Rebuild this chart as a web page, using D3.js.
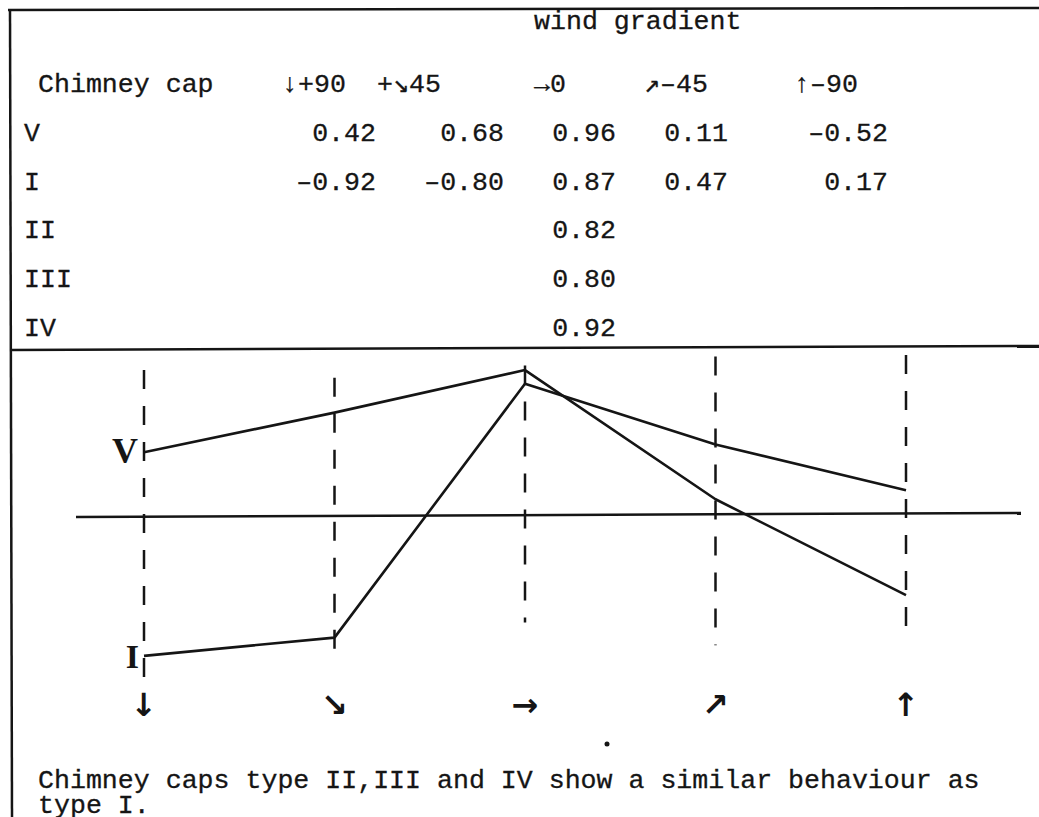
<!DOCTYPE html>
<html>
<head>
<meta charset="utf-8">
<script src="https://cdn.jsdelivr.net/npm/d3@7"></script>
<style>
  body { margin: 0; background: #fff; }
  svg { display: block; }
  .typed { font-family: "Liberation Mono", "Courier New", monospace; font-size: 26.6px; fill: #151515; stroke: #151515; stroke-width: 0.3px; }
</style>
</head>
<body>
<svg></svg>
<script>
// wind gradient directions (degrees) and the table
var directions = ["+90", "+45", "0", "-45", "-90"];
var headerLabels = ["\u2193+90", "+\u219845", "\u21920", "\u2197\u201345", "\u2191\u201390"];
var arrowGlyphs = ["\u2193", "\u2198", "\u2192", "\u2197", "\u2191"];
var caps = ["V", "I", "II", "III", "IV"];
var capV = [0.42, 0.68, 0.96, 0.11, -0.52];
var capI = [-0.92, -0.80, 0.87, 0.47, 0.17];
var capII = [null, null, 0.82, null, null];
var capIII = [null, null, 0.80, null, null];
var capIV = [null, null, 0.92, null, null];
var rows = [capV, capI, capII, capIII, capIV];

// hand drawn guide lines, in value units
var guideTop = [0.96, 0.91, 0.99, 1.05, 1.06];
var guideBottom = [-1.08, -0.91, -0.70, -0.85, -0.75];

var width = 1039, height = 817;
var svg = d3.select("svg").attr("width", width).attr("height", height);

var ink = "#151515";

// frame
svg.append("line").attr("x1", 8).attr("y1", 10).attr("x2", width).attr("y2", 8)
  .attr("stroke", ink).attr("stroke-width", 2.5);
svg.append("line").attr("x1", 10).attr("y1", 9).attr("x2", 12).attr("y2", height)
  .attr("stroke", ink).attr("stroke-width", 2.5);
svg.append("line").attr("x1", 10).attr("y1", 350).attr("x2", width).attr("y2", 346)
  .attr("stroke", ink).attr("stroke-width", 2.5);

// ---- table ----
var rowY = d3.scalePoint().domain(["head"].concat(caps)).range([92, 336]);
var headX = d3.scaleOrdinal().domain(directions).range([282, 377, 534, 644, 794]);
var numX = d3.scaleOrdinal().domain(directions).range([376, 504, 616, 728, 888]);
var fmt = function(v) { return (v < 0 ? "\u2013" : "") + Math.abs(v).toFixed(2); };

svg.append("text").attr("class", "typed").attr("x", 534).attr("y", 29).text("wind gradient");
svg.append("text").attr("class", "typed").attr("x", 38).attr("y", rowY("head")).text("Chimney cap");

svg.selectAll(".head").data(directions).enter().append("text")
  .attr("class", "typed head")
  .attr("x", d => headX(d))
  .attr("y", rowY("head"))
  .text((d, i) => headerLabels[i]);

caps.forEach(function(c, ri) {
  svg.append("text").attr("class", "typed").attr("x", 24).attr("y", rowY(c)).text(c);
  var cells = rows[ri].map((v, i) => ({dir: directions[i], v: v})).filter(d => d.v !== null);
  svg.selectAll(".cell" + ri).data(cells).enter().append("text")
    .attr("class", "typed")
    .attr("text-anchor", "end")
    .attr("x", d => numX(d.dir))
    .attr("y", rowY(c))
    .text(d => fmt(d.v));
});

// ---- chart ----
var x = d3.scalePoint().domain(directions).range([144, 906]);
var y = d3.scaleLinear().domain([-1, 1]).range([668, 364]);

// zero line
svg.append("line")
  .attr("x1", x(directions[0]) - 68).attr("x2", x(directions[4]) + 115)
  .attr("y1", y(0) + 1).attr("y2", y(0) - 3)
  .attr("stroke", ink).attr("stroke-width", 2.5);

// dashed guides
svg.selectAll(".guide").data(directions).enter().append("line")
  .attr("x1", d => x(d)).attr("x2", d => x(d))
  .attr("y1", (d, i) => y(guideTop[i]))
  .attr("y2", (d, i) => y(guideBottom[i]))
  .attr("stroke", ink).attr("stroke-width", 2.5)
  .attr("stroke-dasharray", "19,17");

var line = d3.line().x((d, i) => x(directions[i])).y(d => y(d));
[capV, capI].forEach(function(s) {
  svg.append("path").datum(s)
    .attr("d", line)
    .attr("fill", "none")
    .attr("stroke", ink).attr("stroke-width", 2.6)
    .attr("stroke-linejoin", "round");
});

// series labels
svg.append("text").attr("x", x(directions[0]) - 6).attr("y", y(capV[0]) + 11)
  .attr("text-anchor", "end")
  .style("font-family", "Liberation Serif").style("font-weight", "bold").style("font-size", "36px")
  .attr("fill", ink).text("V");
svg.append("text").attr("x", x(directions[0]) - 5).attr("y", y(capI[0]) + 12)
  .attr("text-anchor", "end")
  .style("font-family", "Liberation Serif").style("font-weight", "bold").style("font-size", "34px")
  .attr("fill", ink).text("I");

// direction arrows under the guides
svg.selectAll(".arrow").data(directions).enter().append("text")
  .attr("x", d => x(d))
  .attr("y", 716)
  .attr("text-anchor", "middle")
  .style("font-family", "DejaVu Sans").style("font-weight", "bold").style("font-size", "32px")
  .attr("fill", ink)
  .text((d, i) => arrowGlyphs[i]);

// stray ink dot from the original sheet
svg.append("circle").attr("cx", 607).attr("cy", 744).attr("r", 2.5).attr("fill", ink);

// caption
svg.append("text").attr("class", "typed").attr("x", 38).attr("y", 788)
  .text("Chimney caps type II,III and IV show a similar behaviour as");
svg.append("text").attr("class", "typed").attr("x", 38).attr("y", 813)
  .text("type I.");
</script>
</body>
</html>
